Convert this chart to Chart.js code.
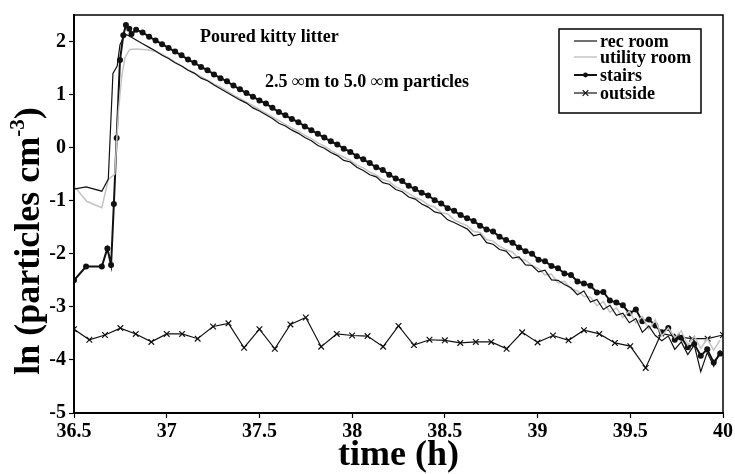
<!DOCTYPE html>
<html>
<head>
<meta charset="utf-8">
<script src="https://cdn.jsdelivr.net/npm/chart.js@4"></script>
<style>
  html, body { margin: 0; padding: 0; background: #fff; }
</style>
</head>
<body>
<canvas id="grafico" width="735" height="474"></canvas>
<script>
// Nombres de las series
const nombres = ["rec room", "utility room", "stairs", "outside"];

// Marcas de los ejes
const xTicks = [36.5, 37, 37.5, 38, 38.5, 39, 39.5, 40];
const yTicks = [-5, -4, -3, -2, -1, 0, 1, 2];

// Subida inicial (tiempo en h, ln de partículas)
const tRecInicio = [36.5, 36.565, 36.65, 36.685, 36.71, 36.733, 36.748, 36.766, 36.784, 36.81];
const recInicio = [-0.78, -0.74, -0.82, -0.59, 1.40, 1.54, 1.94, 2.07, 2.13, 2.08];
const tUtilInicio = [36.5, 36.568, 36.65, 36.685, 36.72, 36.74, 36.757, 36.775, 36.8];
const utilInicio = [-0.72, -1.01, -1.13, -0.6, -0.5, 0.7, 1.33, 1.70, 1.85];
const tStairsInicio = [36.5, 36.565, 36.65, 36.68, 36.7, 36.715, 36.73, 36.748, 36.766, 36.78, 36.798, 36.81];
const stairsInicio = [-2.5, -2.24, -2.24, -1.9, -2.21, -1.06, 0.18, 1.65, 2.12, 2.31, 2.24, 2.14];

// Decaimiento
const tDecay = [36.835, 36.87, 36.905, 36.94, 36.975, 37.01, 37.045, 37.08, 37.115, 37.15,
  37.185, 37.22, 37.255, 37.29, 37.325, 37.36, 37.395, 37.43, 37.465, 37.5,
  37.535, 37.57, 37.605, 37.64, 37.675, 37.71, 37.745, 37.78, 37.815, 37.85,
  37.885, 37.92, 37.955, 37.99, 38.025, 38.06, 38.095, 38.13, 38.165, 38.2,
  38.235, 38.27, 38.305, 38.34, 38.375, 38.41, 38.445, 38.48, 38.515, 38.55,
  38.585, 38.62, 38.655, 38.69, 38.725, 38.76, 38.795, 38.83, 38.865, 38.9,
  38.935, 38.97, 39.005, 39.04, 39.075, 39.11, 39.145, 39.18, 39.215, 39.25,
  39.285, 39.32, 39.355, 39.39, 39.425, 39.46, 39.495, 39.53, 39.565, 39.6,
  39.635, 39.67, 39.705, 39.74, 39.775, 39.81, 39.845, 39.88, 39.915, 39.95,
  39.985];
const recDecay = [2.03, 1.96, 1.89, 1.82, 1.74, 1.68, 1.60, 1.54, 1.46, 1.40,
  1.31, 1.26, 1.18, 1.11, 1.04, 0.97, 0.90, 0.84, 0.75, 0.69,
  0.62, 0.55, 0.46, 0.41, 0.33, 0.27, 0.19, 0.13, 0.04, -0.01,
  -0.09, -0.15, -0.24, -0.27, -0.37, -0.43, -0.51, -0.55, -0.66, -0.69,
  -0.79, -0.83, -0.93, -0.97, -1.06, -1.12, -1.21, -1.24, -1.36, -1.41,
  -1.47, -1.53, -1.66, -1.63, -1.79, -1.82, -1.92, -1.95, -2.08, -2.06,
  -2.21, -2.22, -2.34, -2.31, -2.49, -2.50, -2.58, -2.64, -2.77, -2.70,
  -2.91, -2.86, -3.05, -2.97, -3.16, -3.12, -3.30, -3.22, -3.48, -3.36,
  -3.54, -3.64, -3.55, -3.80, -3.66, -3.90, -3.72, -4.22, -3.86, -4.12,
  -3.82];
const utilDecay = [1.86, 1.85, 1.84, 1.81, 1.76, 1.69, 1.61, 1.54, 1.47, 1.41,
  1.34, 1.27, 1.20, 1.14, 1.07, 0.99, 0.93, 0.86, 0.79, 0.72,
  0.65, 0.58, 0.51, 0.44, 0.37, 0.31, 0.23, 0.17, 0.09, 0.03,
  -0.05, -0.12, -0.18, -0.24, -0.33, -0.38, -0.46, -0.52, -0.60, -0.64,
  -0.74, -0.79, -0.86, -0.94, -0.99, -1.08, -1.12, -1.22, -1.25, -1.36,
  -1.42, -1.47, -1.58, -1.60, -1.73, -1.76, -1.86, -1.92, -1.97, -2.10,
  -2.12, -2.22, -2.28, -2.40, -2.38, -2.55, -2.52, -2.66, -2.70, -2.80,
  -2.82, -2.98, -2.90, -3.10, -3.02, -3.20, -3.08, -3.30, -3.18, -3.42,
  -3.25, -3.55, -3.40, -3.58, -3.45, -3.72, -3.55, -3.78, -3.60, -3.82,
  -3.62];
const stairsDecay = [2.22, 2.17, 2.09, 2.02, 1.95, 1.88, 1.81, 1.74, 1.66, 1.60,
  1.52, 1.46, 1.38, 1.31, 1.25, 1.17, 1.10, 1.03, 0.96, 0.89,
  0.83, 0.75, 0.67, 0.61, 0.54, 0.48, 0.40, 0.33, 0.26, 0.19,
  0.12, 0.06, -0.02, -0.08, -0.16, -0.22, -0.29, -0.37, -0.42, -0.51,
  -0.58, -0.63, -0.72, -0.78, -0.85, -0.90, -0.99, -1.05, -1.14, -1.19,
  -1.27, -1.33, -1.38, -1.47, -1.54, -1.58, -1.68, -1.74, -1.79, -1.88,
  -1.95, -2.00, -2.11, -2.14, -2.23, -2.27, -2.37, -2.40, -2.52, -2.56,
  -2.60, -2.73, -2.72, -2.88, -2.92, -2.97, -3.12, -3.05, -3.27, -3.24,
  -3.35, -3.48, -3.40, -3.62, -3.58, -3.76, -3.70, -3.92, -3.80, -4.05,
  -3.88];

// Exterior, cada 5 minutos
const tOutside = [36.5, 36.583, 36.667, 36.75, 36.833, 36.917, 37, 37.083, 37.167, 37.25,
  37.333, 37.417, 37.5, 37.583, 37.667, 37.75, 37.833, 37.917, 38, 38.083,
  38.167, 38.25, 38.333, 38.417, 38.5, 38.583, 38.667, 38.75, 38.833, 38.917,
  39, 39.083, 39.167, 39.25, 39.333, 39.417, 39.5, 39.583, 39.667, 39.75,
  39.833, 39.917, 40];
const outside = [-3.42, -3.62, -3.53, -3.40, -3.51, -3.66, -3.51, -3.51, -3.60, -3.37,
  -3.31, -3.77, -3.42, -3.79, -3.33, -3.20, -3.75, -3.51, -3.54, -3.55,
  -3.75, -3.36, -3.72, -3.62, -3.63, -3.68, -3.66, -3.66, -3.79, -3.48,
  -3.67, -3.54, -3.63, -3.44, -3.51, -3.68, -3.74, -4.15, -3.50, -3.56,
  -3.60, -3.60, -3.53];

const fuente = "'Liberation Serif', 'Times New Roman', serif";

function pares(ts, vs) {
  return ts.map((t, i) => ({ x: t, y: vs[i] }));
}

// Marco, textos, leyenda y título del eje Y
const extras = {
  id: 'extras',
  afterDatasetsDraw(chart) {
    const ctx = chart.ctx;
    const a = chart.chartArea;
    const sx = chart.scales.x, sy = chart.scales.y;

    ctx.save();
    ctx.strokeStyle = '#000';
    ctx.lineWidth = 1.5;
    ctx.strokeRect(a.left, a.top, a.right - a.left, a.bottom - a.top);

    // anotaciones
    ctx.fillStyle = '#000';
    ctx.font = 'bold 18px ' + fuente;
    ctx.textBaseline = 'middle';
    ctx.textAlign = 'left';
    ctx.fillText('Poured kitty litter', sx.getPixelForValue(37.18), sy.getPixelForValue(2.07));
    ctx.fillText('2.5 \u221Em to 5.0 \u221Em particles', sx.getPixelForValue(37.53), sy.getPixelForValue(1.24));

    // leyenda
    const bx = a.right - 164, by = a.top + 14, bw = 142, bh = 84;
    ctx.fillStyle = '#fff';
    ctx.fillRect(bx, by, bw, bh);
    ctx.lineWidth = 1.5;
    ctx.strokeStyle = '#000';
    ctx.strokeRect(bx, by, bw, bh);
    const filas = [12, 28, 46, 64];
    chart.data.datasets.forEach((ds, i) => {
      const y = by + filas[i];
      const x0 = bx + 15, x1 = bx + 38;
      ctx.strokeStyle = ds.borderColor;
      ctx.lineWidth = ds.borderWidth;
      ctx.beginPath();
      ctx.moveTo(x0, y);
      ctx.lineTo(x1, y);
      ctx.stroke();
      const cx = (x0 + x1) / 2;
      if (ds.pointStyle === 'circle' && ds.pointRadius > 0) {
        ctx.fillStyle = ds.pointBackgroundColor;
        ctx.beginPath();
        ctx.arc(cx, y, ds.pointRadius * 0.8, 0, Math.PI * 2);
        ctx.fill();
      } else if (ds.pointStyle === 'crossRot') {
        const r = ds.pointRadius * 0.7;
        ctx.lineWidth = ds.pointBorderWidth;
        ctx.beginPath();
        ctx.moveTo(cx - r, y - r); ctx.lineTo(cx + r, y + r);
        ctx.moveTo(cx - r, y + r); ctx.lineTo(cx + r, y - r);
        ctx.stroke();
      }
      ctx.fillStyle = '#000';
      ctx.font = 'bold 18px ' + fuente;
      ctx.textAlign = 'left';
      ctx.textBaseline = 'middle';
      ctx.fillText(ds.label, x1 + 3, y + 1);
    });

    // título del eje Y con superíndice
    ctx.translate(39, 241);
    ctx.rotate(-Math.PI / 2);
    ctx.fillStyle = '#000';
    ctx.textBaseline = 'alphabetic';
    ctx.textAlign = 'left';
    const f1 = 'bold 36px ' + fuente, f2 = 'bold 21px ' + fuente;
    const p1 = 'ln (particles cm', p2 = '-3', p3 = ')';
    ctx.font = f1;
    const w1 = ctx.measureText(p1).width, w3 = ctx.measureText(p3).width;
    ctx.font = f2;
    const w2 = ctx.measureText(p2).width;
    let x = -(w1 + w2 + w3) / 2;
    ctx.font = f1;
    ctx.fillText(p1, x, 0);
    x += w1;
    ctx.font = f2;
    ctx.fillText(p2, x, -15);
    x += w2;
    ctx.font = f1;
    ctx.fillText(p3, x, 0);
    ctx.restore();
  }
};

new Chart(document.getElementById('grafico').getContext('2d'), {
  type: 'line',
  data: {
    datasets: [
      { label: nombres[0], data: pares(tRecInicio.concat(tDecay), recInicio.concat(recDecay)),
        borderColor: '#111', borderWidth: 1.2, pointRadius: 0, pointStyle: 'line', tension: 0 },
      { label: nombres[1], data: pares(tUtilInicio.concat(tDecay), utilInicio.concat(utilDecay)),
        borderColor: '#c4c4c4', borderWidth: 1.5, pointRadius: 0, pointStyle: 'line', tension: 0 },
      { label: nombres[2], data: pares(tStairsInicio.concat(tDecay), stairsInicio.concat(stairsDecay)),
        borderColor: '#111', borderWidth: 2, pointRadius: 3, pointStyle: 'circle',
        pointBackgroundColor: '#111', pointBorderColor: '#111', pointBorderWidth: 0, tension: 0 },
      { label: nombres[3], data: pares(tOutside, outside),
        borderColor: '#111', borderWidth: 1.2, pointRadius: 4, pointStyle: 'crossRot',
        pointBorderColor: '#111', pointBorderWidth: 1.2, tension: 0 }
    ]
  },
  plugins: [extras],
  options: {
    responsive: false,
    animation: false,
    layout: { padding: { left: 46, right: 12, top: 7, bottom: 0 } },
    plugins: { legend: { display: false }, tooltip: { enabled: false } },
    scales: {
      x: {
        type: 'linear', min: 36.5, max: 40,
        afterBuildTicks: ax => { ax.ticks = xTicks.map(v => ({ value: v })); },
        afterFit: ax => { ax.height = 61; },
        border: { display: true, color: '#000', width: 2 },
        grid: { display: true, drawOnChartArea: false, drawTicks: true, tickLength: 5, tickColor: '#000', tickWidth: 1.2 },
        ticks: { color: '#000', font: { family: fuente, weight: 'bold', size: 20 }, padding: 2, maxRotation: 0,
          callback: v => String(v) },
        title: { display: true, text: 'time (h)', color: '#000',
          font: { family: fuente, weight: 'bold', size: 36, lineHeight: 1 }, padding: { top: 0, bottom: 0 } }
      },
      y: {
        type: 'linear', min: -5, max: 2.5,
        afterBuildTicks: ax => { ax.ticks = yTicks.map(v => ({ value: v })); },
        afterFit: ax => { ax.width = 28; },
        border: { display: true, color: '#000', width: 2 },
        grid: { display: true, drawOnChartArea: false, drawTicks: true, tickLength: 5, tickColor: '#000', tickWidth: 1.2 },
        ticks: { color: '#000', font: { family: fuente, weight: 'bold', size: 20 }, padding: 3,
          callback: v => String(v) }
      }
    }
  }
});
</script>
</body>
</html>
